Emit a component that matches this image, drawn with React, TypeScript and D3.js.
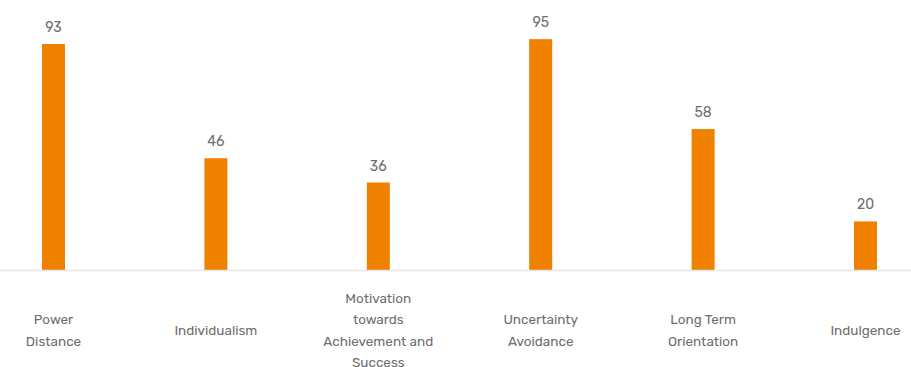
// App.tsx
// Hofstede-style dimension scores as a thin bar chart
import React, { useEffect, useRef } from "react";
import * as d3 from "d3";

const categories: string[][] = [
  ["Power", "Distance"],
  ["Individualism"],
  ["Motivation", "towards", "Achievement and", "Success"],
  ["Uncertainty", "Avoidance"],
  ["Long Term", "Orientation"],
  ["Indulgence"],
];
const scores: number[] = [93, 46, 36, 95, 58, 20];

export default function App() {
  const svgRef = useRef<SVGSVGElement>(null);

  useEffect(() => {
    if (!svgRef.current) return;
    const width = 911;
    const baseY = 270;
    const barW = 23;
    const font = "Rubik, Roboto, 'Noto Sans', sans-serif";

    const svg = d3.select(svgRef.current);
    svg.selectAll("*").remove();

    const idx = scores.map((_, i) => i);
    const x = d3.scalePoint<number>().domain(idx).range([53.5, 865.5]);
    const y = d3.scaleLinear().domain([0, 100]).range([baseY, 27]);

    // Bars
    svg.selectAll("rect.bar")
      .data(scores)
      .enter()
      .append("rect")
      .attr("class", "bar")
      .attr("x", (_d, i) => (x(i) as number) - barW / 2)
      .attr("y", (d) => y(d))
      .attr("width", barW)
      .attr("height", (d) => baseY - y(d))
      .attr("fill", "#f08100");

    // Baseline
    svg.append("line")
      .attr("x1", 0)
      .attr("x2", width)
      .attr("y1", baseY + 0.5)
      .attr("y2", baseY + 0.5)
      .attr("stroke", "#e8e8e8")
      .attr("stroke-width", 1.5);

    // Value labels
    svg.selectAll("text.value")
      .data(scores)
      .enter()
      .append("text")
      .attr("class", "value")
      .attr("x", (_d, i) => x(i) as number)
      .attr("y", (d) => y(d) - 12)
      .attr("text-anchor", "middle")
      .attr("font-family", font)
      .attr("font-size", 14)
      .attr("fill", "#6e6e6e")
      .text((d) => d);

    // Category labels (multi-line, centred on the label area)
    const lineH = 21.5;
    const midY = 330;
    categories.forEach((lines, i) => {
      const t = svg.append("text")
        .attr("text-anchor", "middle")
        .attr("font-family", font)
        .attr("font-size", 13.5)
        .attr("fill", "#6e6e6e");
      const top = midY - ((lines.length - 1) * lineH) / 2;
      lines.forEach((ln, j) => {
        t.append("tspan")
          .attr("x", x(i) as number)
          .attr("y", top + j * lineH + 5)
          .text(ln);
      });
    });
  }, []);

  return (
    <div style={{ position: "fixed", left: 0, top: 0, width: 911, height: 367, background: "#fff" }}>
      <svg ref={svgRef} width={911} height={367} style={{ display: "block" }} />
    </div>
  );
}
